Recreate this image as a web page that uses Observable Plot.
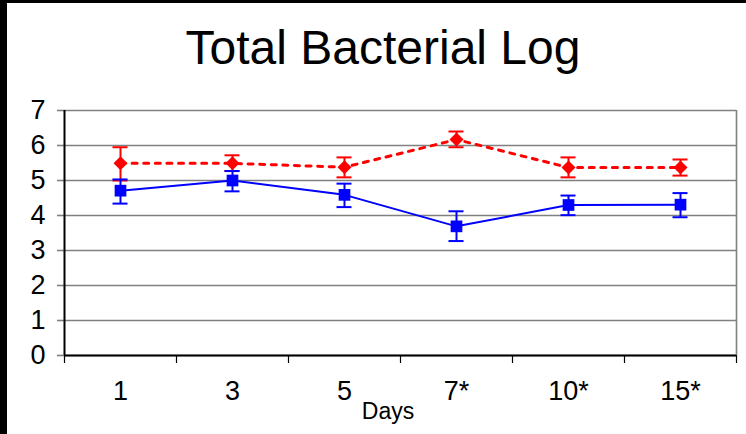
<!DOCTYPE html>
<html><head><meta charset="utf-8">
<script src="https://cdn.jsdelivr.net/npm/d3@7"></script>
<script src="https://cdn.jsdelivr.net/npm/@observablehq/plot@0.6"></script>
<style>
html,body{margin:0;padding:0;background:#fff;}
#wrap{position:relative;width:746px;height:434px;box-sizing:border-box;border-left:7px solid #000;border-top:3px solid #000;overflow:hidden;font-family:"Liberation Sans",Arial,sans-serif;}
#title{position:absolute;left:0;width:752px;top:21px;text-align:center;font-size:48px;line-height:48px;color:#000;white-space:nowrap;}
#chart{position:absolute;left:0;top:92px;}
#chart g[aria-label="y-axis tick label"]{font-size:27px;}
#chart g[aria-label="x-axis tick label"]{font-size:27px;}
</style>
</head><body>
<div id="wrap"><div id="title">Total Bacterial Log</div><div id="chart"></div></div>
<script>
const days = ["1", "3", "5", "7*", "10*", "15*"];
const redMean = [5.49, 5.49, 5.38, 6.17, 5.37, 5.37];
const redHi   = [5.95, 5.72, 5.66, 6.40, 5.66, 5.60];
const redLo   = [5.00, 5.27, 5.09, 5.95, 5.09, 5.14];
const blueMean = [4.71, 5.00, 4.59, 3.69, 4.30, 4.31];
const blueHi   = [5.03, 5.27, 4.91, 4.12, 4.57, 4.64];
const blueLo   = [4.34, 4.69, 4.24, 3.27, 4.01, 3.95];
const yTicks = [0, 1, 2, 3, 4, 5, 6, 7];
const xLabel = "Days";

const RED = "#FF0000", BLUE = "#0000FF", GRID = "#808080";
const n = days.length;
const rows = (mean, lo, hi) => days.map((d, i) => ({i, pos: i + 0.5, day: d, mean: mean[i], lo: lo[i], hi: hi[i]}));
const red = rows(redMean, redLo, redHi);
const blue = rows(blueMean, blueLo, blueHi);
const capHalf = 0.067; // half cap width in band units
const caps = (data) => data.flatMap(d => [{x1: d.pos - capHalf, x2: d.pos + capHalf, y: d.lo}, {x1: d.pos - capHalf, x2: d.pos + capHalf, y: d.hi}]);

const chart = Plot.plot({
  width: 739, height: 339,
  marginLeft: 57, marginRight: 10, marginTop: 15, marginBottom: 79,
  style: {fontFamily: '"Liberation Sans", Arial, sans-serif', background: "transparent", color: "#000"},
  x: {type: "linear", domain: [0, n], axis: null},
  y: {domain: [0, 7], axis: null},
  marks: [
    Plot.ruleY(yTicks, {y: d => d, x1: 0, x2: n, stroke: GRID, strokeWidth: 1.6}),
    Plot.axisY({ticks: yTicks, tickSize: 7, tickPadding: 12, stroke: GRID, strokeWidth: 1.6, fontSize: 27, tickFormat: d => String(d), label: null}),
    Plot.ruleX([n], {stroke: GRID, strokeWidth: 1.6}),
    Plot.axisX({ticks: d3.range(n + 1), tickSize: 8, tickFormat: () => "", stroke: "#000", strokeWidth: 1.2, label: null}),
    Plot.axisX({ticks: d3.range(n).map(i => i + 0.5), tickSize: 0, tickPadding: 25, fontSize: 27, tickFormat: v => days[Math.floor(v)], label: null}),
    Plot.ruleX([0], {stroke: "#000", strokeWidth: 2}),
    Plot.ruleY([0], {stroke: "#000", strokeWidth: 2}),
    Plot.text([xLabel], {frameAnchor: "bottom", dy: 63, dx: -12.5, fontSize: 23, fill: "#000"}),
    // red series
    Plot.line(red, {x: "pos", y: "mean", stroke: RED, strokeWidth: 3, strokeDasharray: "5,6.6"}),
    Plot.ruleX(red, {x: "pos", y1: "lo", y2: "hi", stroke: RED, strokeWidth: 2}),
    Plot.ruleY(caps(red), {x1: "x1", x2: "x2", y: "y", stroke: RED, strokeWidth: 2}),
    Plot.dot(red, {x: "pos", y: "mean", symbol: "diamond2", r: 6.3, fill: RED, stroke: "none"}),
    // blue series
    Plot.line(blue, {x: "pos", y: "mean", stroke: BLUE, strokeWidth: 2}),
    Plot.ruleX(blue, {x: "pos", y1: "lo", y2: "hi", stroke: BLUE, strokeWidth: 2}),
    Plot.ruleY(caps(blue), {x1: "x1", x2: "x2", y: "y", stroke: BLUE, strokeWidth: 2}),
    Plot.dot(blue, {x: "pos", y: "mean", symbol: "square", r: 6.6, fill: BLUE, stroke: "none"})
  ]
});
document.getElementById("chart").appendChild(chart);
</script>
</body></html>
